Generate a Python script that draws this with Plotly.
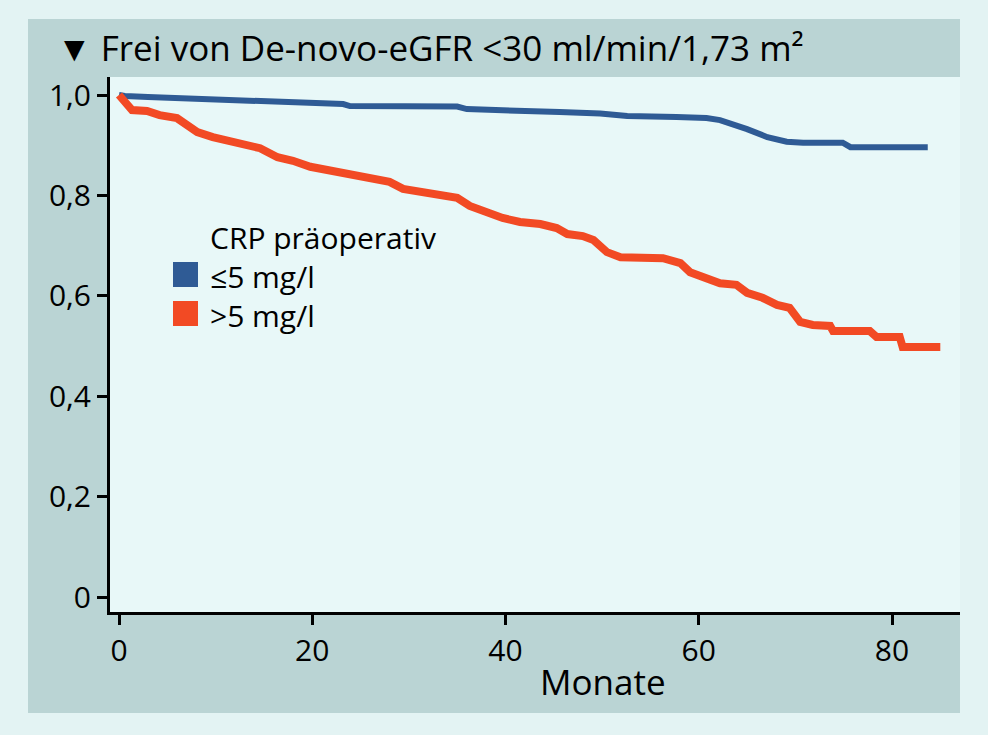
import plotly.graph_objects as go

# ---- data ----
months_le5 = [0, 0.6, 3.0, 6.5, 11.0, 14.6, 17.7, 20.8, 23.2, 23.9, 35.0, 36.0, 42.2, 42.8,
              45.6, 49.8, 52.6, 57.7, 60.8, 62.2, 63.2, 65.0, 67.1, 69.1, 70.8, 74.9, 75.7, 83.7]
surv_le5 = [1.0, 0.998, 0.996, 0.994, 0.991, 0.989, 0.987, 0.984, 0.982, 0.978, 0.977, 0.972, 0.970, 0.968,
            0.966, 0.963, 0.958, 0.956, 0.954, 0.950, 0.944, 0.932, 0.916, 0.907, 0.905, 0.905, 0.896, 0.896]

months_gt5 = [0, 0.6, 1.35, 2.9, 4.2, 6.0, 8.1, 9.7, 11.2, 13.2, 14.6, 16.4, 18.0, 19.8, 21.8,
              24.2, 26.0, 28.0, 29.4, 31.5, 35.0, 36.3, 39.7, 41.5, 43.6, 45.3, 46.4, 48.0, 49.1,
              50.5, 51.9, 56.3, 58.1, 59.1, 61.2, 62.2, 63.9, 65.0, 66.6, 68.1, 69.4, 70.5, 71.8,
              73.6, 73.9, 77.7, 78.4, 80.8, 81.1, 85.0]
surv_gt5 = [1.0, 0.986, 0.970, 0.968, 0.960, 0.954, 0.926, 0.916, 0.910, 0.900, 0.894, 0.876, 0.869, 0.857, 0.849,
            0.843, 0.835, 0.827, 0.813, 0.805, 0.795, 0.779, 0.755, 0.747, 0.743, 0.735, 0.723, 0.719, 0.711,
            0.687, 0.677, 0.675, 0.665, 0.647, 0.631, 0.625, 0.622, 0.606, 0.596, 0.582, 0.576, 0.548, 0.542,
            0.540, 0.530, 0.530, 0.518, 0.518, 0.498, 0.498]

series_names = ["≤5 mg/l", ">5 mg/l"]
legend_title = "CRP präoperativ"
chart_title = "▼ Frei von De-novo-eGFR <30 ml/min/1,73 m²"
x_title = "Monate"
x_ticks = [0, 20, 40, 60, 80]
y_ticks = [0, 0.2, 0.4, 0.6, 0.8, 1.0]
y_ticklabels = ["0", "0,2", "0,4", "0,6", "0,8", "1,0"]

BLUE = "#2f5b95"
RED = "#f24a24"
OUTER = "#e3f3f3"
PANEL = "#bad4d4"
PLOTBG = "#e8f8f8"
FONT = "Open Sans"

# ---- geometry (pixels) ----
W, H = 988, 735
L, R, T, B = 110, 960, 77, 612
pw, ph = R - L, B - T


def px(xp):
    return (xp - L) / pw


def py(yp):
    return (B - yp) / ph


fig = go.Figure()
fig.add_trace(go.Scatter(x=months_le5, y=surv_le5, mode="lines", name=series_names[0],
                         line=dict(color=BLUE, width=6), showlegend=False))
fig.add_trace(go.Scatter(x=months_gt5, y=surv_gt5, mode="lines", name=series_names[1],
                         line=dict(color=RED, width=8), showlegend=False))

shapes = [
    dict(type="rect", xref="paper", yref="paper", x0=px(28), x1=px(960), y0=py(713), y1=py(19),
         fillcolor=PANEL, line=dict(width=0), layer="below"),
    dict(type="rect", xref="paper", yref="paper", x0=0, x1=1, y0=0, y1=1,
         fillcolor=PLOTBG, line=dict(width=0), layer="below"),
    dict(type="rect", xref="paper", yref="paper", x0=px(173), x1=px(198), y0=py(287), y1=py(262),
         fillcolor=BLUE, line=dict(width=0)),
    dict(type="rect", xref="paper", yref="paper", x0=px(173), x1=px(198), y0=py(326), y1=py(301),
         fillcolor=RED, line=dict(width=0)),
]

legend_text = "<br>".join([legend_title] + series_names)

annotations = [
    dict(text=chart_title, xref="paper", yref="paper", x=px(55), y=py(47), xanchor="left",
         yanchor="middle", showarrow=False, font=dict(size=35, color="black", family=FONT)),
    dict(text=x_title, xref="paper", yref="paper", x=px(603), y=py(681), xanchor="center",
         yanchor="middle", showarrow=False, font=dict(size=35, color="black", family=FONT)),
    dict(text=legend_text, xref="paper", yref="paper", x=px(208), y=py(276), xanchor="left",
         yanchor="middle", align="left", showarrow=False,
         font=dict(size=30, color="black", family=FONT)),
]

# x: 0 months -> px 119, 80 months -> px 892
xs = (892 - 119) / 80.0
x0 = (L - 119) / xs
x1 = (R - 119) / xs
# y: 0 -> px 597, 1 -> px 95
ys = (597 - 95)
y0 = (597 - B) / ys
y1 = (597 - T) / ys

fig.update_layout(
    width=W, height=H,
    margin=dict(l=L, r=W - R, t=T, b=H - B, pad=0),
    paper_bgcolor=OUTER,
    plot_bgcolor="rgba(0,0,0,0)",
    font=dict(family=FONT, color="black"),
    shapes=shapes,
    annotations=annotations,
    showlegend=False,
    xaxis=dict(range=[x0, x1], tickvals=x_ticks, ticks="outside", ticklen=10, tickwidth=3,
               tickcolor="black", showline=True, linewidth=3, linecolor="black", showgrid=False,
               zeroline=False, tickfont=dict(size=30, family=FONT), fixedrange=True),
    yaxis=dict(range=[y0, y1], tickvals=y_ticks, ticktext=y_ticklabels, ticks="outside", ticklen=10,
               tickwidth=3, tickcolor="black", showline=True, linewidth=3, linecolor="black",
               showgrid=False, zeroline=False, tickfont=dict(size=30, family=FONT), fixedrange=True),
)

fig.write_html("out.html", config={"displayModeBar": False},
               post_script="document.body.style.margin='0';document.body.style.background='" + OUTER + "';")
